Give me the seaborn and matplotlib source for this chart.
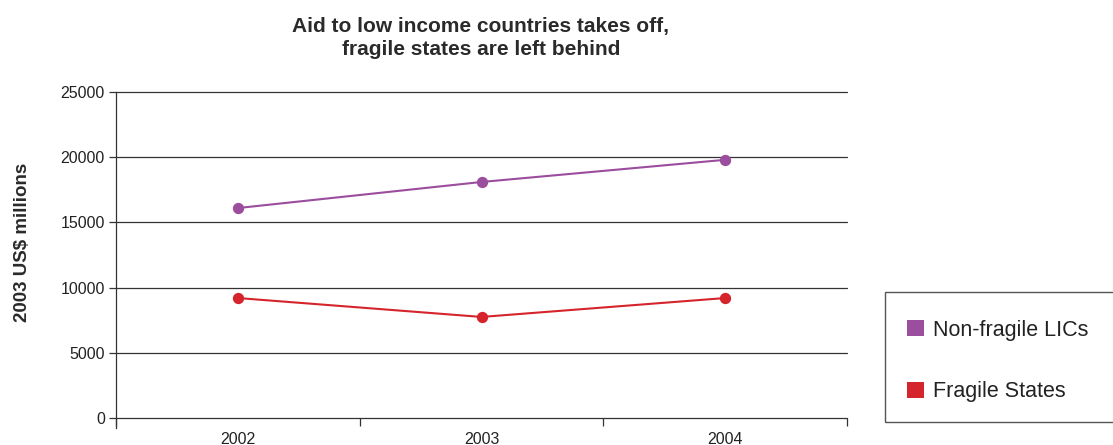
import matplotlib
matplotlib.use("Agg")
import matplotlib.pyplot as plt
import seaborn as sns
import pandas as pd
from matplotlib.patches import Rectangle, Patch

years = ["2002", "2003", "2004"]
non_fragile = [16100, 18100, 19800]
fragile = [9200, 7750, 9200]
series_names = ["Non-fragile LICs", "Fragile States"]
colors = ["#9B4D9E", "#D5242B"]
yticks = [0, 5000, 10000, 15000, 20000, 25000]

df = pd.DataFrame({
    "year": years * 2,
    "value": non_fragile + fragile,
    "series": [series_names[0]] * 3 + [series_names[1]] * 3,
})

sns.set_theme(style="white")
plt.rcParams["font.family"] = ["Liberation Sans", "DejaVu Sans"]

fig = plt.figure(figsize=(11.13, 4.45), dpi=100)
ax = fig.add_axes([116 / 1113, 1 - 418 / 445, (847 - 116) / 1113, (418 - 92) / 445])

sns.pointplot(data=df, x="year", y="value", hue="series", order=years,
              hue_order=series_names, palette=colors, markers="o",
              linestyles="-", markersize=7, linewidth=1.5, ax=ax, legend=False)

ax.set_xlim(-0.5, 2.5)
ax.set_ylim(0, 25000)
ax.set_yticks(yticks)
ax.set_yticklabels([str(v) for v in yticks], fontsize=11.5, color="#222222")
for v in yticks:
    ax.axhline(v, color="#333333", linewidth=0.9, zorder=0, clip_on=False)
for s in ["top", "right", "bottom"]:
    ax.spines[s].set_visible(False)
ax.spines["left"].set_color("#333333")
ax.spines["left"].set_linewidth(0.9)
ax.tick_params(axis="y", which="major", left=True, length=5, width=0.9, color="#333333", pad=3)

# x: labels at centers, tick marks at boundaries
ax.set_xticks(range(len(years)))
ax.set_xticklabels(years, fontsize=11.5, color="#222222")
ax.tick_params(axis="x", which="major", bottom=False, pad=4)
ax.set_xticks([-0.5, 0.5, 1.5, 2.5], minor=True)
ax.tick_params(axis="x", which="minor", bottom=True, length=6, width=0.9, color="#333333", direction="out")
ax.spines["left"].set_bounds(-800, 25000)
ax.set_xlabel("")
ax.set_ylabel("2003 US$ millions", fontsize=13.5, fontweight="bold", color="#2a2a2a")
ax.yaxis.set_label_coords((31 - 116) / 731, (418 - 242) / 326)

fig.text(481 / 1113, 1 - 38 / 445, "Aid to low income countries takes off,\nfragile states are left behind",
         ha="center", va="center", fontsize=15, fontweight="bold", color="#2a2a2a", linespacing=1.25)

fig.patches.append(Rectangle((885 / 1113, 1 - 422 / 445), 0.3, 130 / 445,
                             transform=fig.transFigure, fill=False,
                             edgecolor="#555555", linewidth=1))
handles = [Patch(facecolor=c, edgecolor="none") for c in colors]
fig.legend(handles, series_names, loc="center left",
           bbox_to_anchor=(888 / 1113, 1 - 361 / 445), frameon=False,
           fontsize=15.5, handlelength=0.75, handleheight=0.75, handletextpad=0.45,
           labelspacing=1.9, labelcolor="#222222")

fig.savefig("out.png", dpi=100)
